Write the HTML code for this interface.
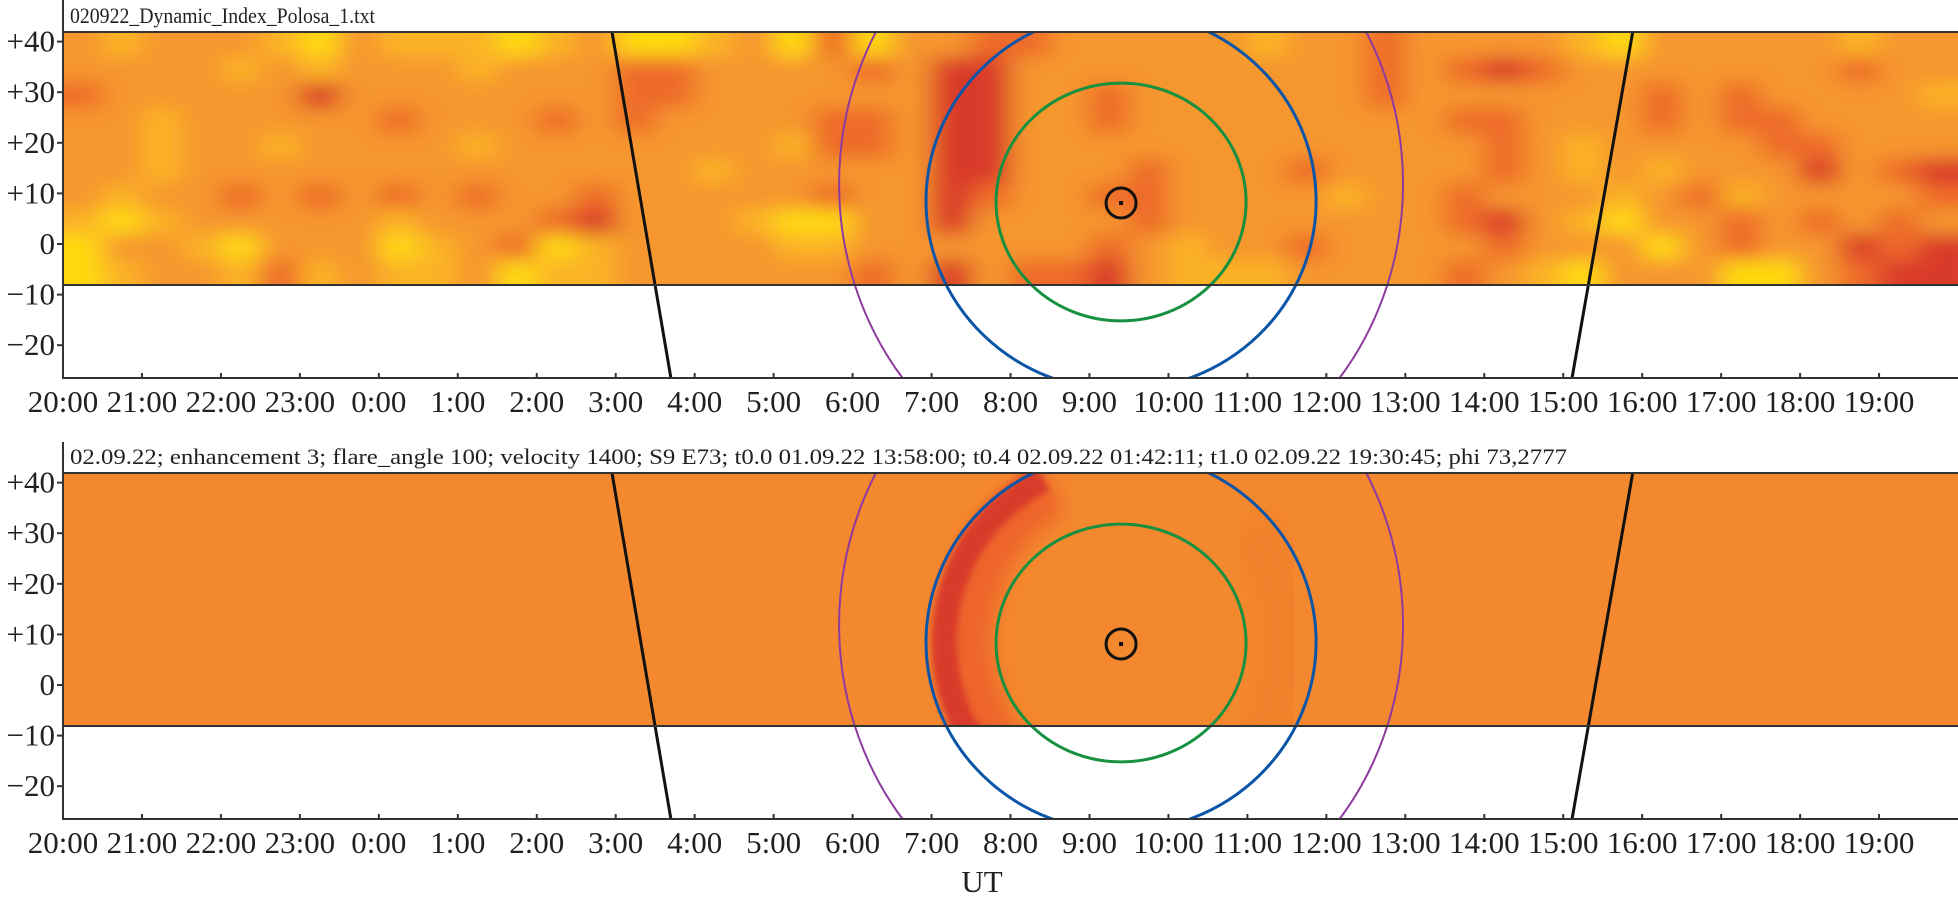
<!DOCTYPE html>
<html><head><meta charset="utf-8"><style>
html,body{margin:0;padding:0;background:#fff;}
svg{display:block;}
text{font-family:"Liberation Serif",serif;fill:#231f20;}
</style></head><body>
<svg id="chart" width="1958" height="904" viewBox="0 0 1958 904" xmlns="http://www.w3.org/2000/svg">
<defs>
  <filter id="blurHeat" x="-5%" y="-5%" width="110%" height="110%"><feGaussianBlur stdDeviation="13 9"/></filter>
  <filter id="blurRed" x="-20%" y="-20%" width="140%" height="140%"><feGaussianBlur stdDeviation="3.5"/></filter>
  <filter id="blurSoft" x="-20%" y="-20%" width="140%" height="140%"><feGaussianBlur stdDeviation="10"/></filter>
  <clipPath id="heat1"><rect x="63" y="32" width="1895" height="253"/></clipPath>
  <clipPath id="heat2"><rect x="63" y="473" width="1895" height="253"/></clipPath>
  <clipPath id="area1"><rect x="63" y="32" width="1895" height="346"/></clipPath>
  <clipPath id="area2"><rect x="63" y="473" width="1895" height="346"/></clipPath>
</defs>
</svg>
<script>
// ---- data ----
const hourLabels = ["20:00","21:00","22:00","23:00","0:00","1:00","2:00","3:00","4:00","5:00","6:00","7:00","8:00","9:00","10:00","11:00","12:00","13:00","14:00","15:00","16:00","17:00","18:00","19:00"];
const yTicks = [40,30,20,10,0,-10,-20];
const yTickLabels = ["+40","+30","+20","+10","0","\u221210","\u221220"];
const heatTop = 41.9, heatBottom = -8.1;
const heatRows = [
 "212221021110120012030223"+"322222122322221022222122",
 "222212122212223322223244"+"222222222323432222222322",
 "322222422222223322222244"+"223222222322222232322221",
 "221222223222323222233244"+"223222222223322232332222",
 "221221222212222222133244"+"222222222222321222233222",
 "221222222222222212222244"+"222322232222321212224234",
 "212232323232232222232243"+"223322221223222123122223",
 "101222221222342221002242"+"222322222223421022323232",
 "022102220123012222112222"+"223212232222322202322434",
 "012213121120112222223242"+"334211122223210222002344"
];
const heatColors = ["#ffd90f","#fbb326","#f6962d","#ee6a2a","#d93a2a"];
const sunCenter = {h:13.40, v:8.1};
const greenEllipse = {h:13.40, v:8.3, rh:1.583, rv:23.5};
const blueEllipse = {h:13.40, v:8.5, rh:2.47, rv:37.4};
const purpleEllipse = {h:13.40, v:11.9, rh:3.571, rv:60.7};
const blackLeft = [{h:6.953, v:41.9},{h:7.70, v:-26.6}];
const blackRight = [{h:19.88, v:41.9},{h:19.11, v:-26.6}];
const panelTitles = ["020922_Dynamic_Index_Polosa_1.txt","02.09.22; enhancement 3; flare_angle 100; velocity 1400; S9 E73; t0.0 01.09.22 13:58:00; t0.4 02.09.22 01:42:11; t1.0 02.09.22 19:30:45; phi 73,2777"];

// ---- scales ----
const X0 = 63, XW = 78.96;
const xOf = h => X0 + h*XW;
const yOf = (v, off) => off + 244 - 5.06*v;
const svg = document.getElementById('chart');
const NS = "http://www.w3.org/2000/svg";
function mk(tag, attrs, parent){
  const e = document.createElementNS(NS, tag);
  for (const k in attrs) e.setAttribute(k, attrs[k]);
  (parent||svg).appendChild(e);
  return e;
}

function drawPanel(p){
  const off = p*441;
  const g = mk('g', {});
  
  
  const hg = mk('g', {'clip-path': 'url(#heat'+(p+1)+')'}, g);
  
  
  const yT = yOf(heatTop, off), yB = yOf(heatBottom, off);
  if (p===0){
    mk('rect', {x:X0, y:yT, width:1895, height:yB-yT, fill:"#f6962d"}, hg);
    const bg = mk('g', {filter:'url(#blurHeat)'}, hg);
    const nr = heatRows.length, ncol = heatRows[0].length;
    const dv = (heatTop-heatBottom)/nr, dh = 24/ncol;
    for (let r=0;r<nr;r++){
      for (let c=0;c<ncol;c++){
        const val = +heatRows[r][c];
        const v1 = heatTop - r*dv, v2 = v1 - dv;
        let x1 = xOf(c*dh), x2 = xOf((c+1)*dh), y1 = yOf(v1,off), y2 = yOf(v2,off);
        if (c===0) x1 -= 25; if (c===ncol-1) x2 += 25;
        if (r===0) y1 -= 25; if (r===nr-1) y2 += 25;
        const cell = mk('rect', {x:x1, y:y1, width:x2-x1+0.5, height:y2-y1+0.5, fill:heatColors[val]}, bg);
        
        
      }
    }
  } else {
    mk('rect', {x:X0, y:yT, width:1895, height:yB-yT, fill:"#f4882e"}, hg);
    const cx = xOf(blueEllipse.h), cy = yOf(blueEllipse.v, off);
    const rx = blueEllipse.rh*XW, ry = blueEllipse.rv*5.06;
    const arc = (rxa, rya, dx, a0, a1) => {
      let d = "";
      for (let a=a0; a<=a1; a+=2){
        const t = a*Math.PI/180;
        d += (d?"L":"M") + (cx+dx+rxa*Math.cos(t)).toFixed(1) + "," + (cy+rya*Math.sin(t)).toFixed(1);
      }
      return d;
    };
    const shade = mk('path', {d:arc(rx-30, ry-10, 0, -40, 40), fill:"none", stroke:"#f07e2c", "stroke-width":50, filter:'url(#blurSoft)', opacity:0.7}, hg);
    
    
    const halo = mk('path', {d:arc(rx-42, ry-22, 0, 118, 245), fill:"none", stroke:"#ec5e2a", "stroke-width":48, filter:'url(#blurSoft)', opacity:0.85}, hg);
    
    
    const cres = mk('path', {d:arc(rx-18, ry-8, 0, 116, 244), fill:"none", stroke:"#d93a2a", "stroke-width":26, filter:'url(#blurRed)'}, hg);
    
    
  }
  const cg = mk('g', {'clip-path': 'url(#area'+(p+1)+')', fill:'none'}, g);
  const ell = (e, color, w, name) => {
    const el = mk('ellipse', {cx:xOf(e.h), cy:yOf(e.v,off), rx:e.rh*XW, ry:e.rv*5.06, stroke:color, 'stroke-width':w}, cg);
    
    
  };
  ell(purpleEllipse, "#8e3a9e", 2, 'purple-contour');
  ell(blueEllipse, "#0b55a8", 3, 'blue-contour');
  ell(greenEllipse, "#17903f", 3, 'green-contour');
  const line = (pts, name) => {
    const l = mk('line', {x1:xOf(pts[0].h), y1:yOf(pts[0].v,off), x2:xOf(pts[1].h), y2:yOf(pts[1].v,off), stroke:"#111", 'stroke-width':3}, cg);
    
    
  };
  line(blackLeft, 'terminator-left');
  line(blackRight, 'terminator-right');
  const sun = mk('circle', {cx:xOf(sunCenter.h), cy:yOf(sunCenter.v,off), r:15, stroke:"#111", 'stroke-width':3}, cg);
  
  
  mk('rect', {x:xOf(sunCenter.h)-2, y:yOf(sunCenter.v,off)-2, width:4, height:4, fill:"#111"}, cg);
  mk('line', {x1:X0, y1:yT, x2:1958, y2:yT, stroke:"#333", 'stroke-width':2}, g);
  mk('line', {x1:X0, y1:yB, x2:1958, y2:yB, stroke:"#333", 'stroke-width':2}, g);
  const axB = off + 378;
  const xAxis = mk('line', {x1:X0, y1:axB, x2:1958, y2:axB, stroke:"#333", 'stroke-width':2}, g);
  
  
  const yAxis = mk('line', {x1:X0, y1:off+(p===0?0:1), x2:X0, y2:axB+1, stroke:"#333", 'stroke-width':2}, g);
  
  
  yTicks.forEach((v,i) => {
    const y = yOf(v, off);
    mk('line', {x1:X0-6, y1:y, x2:X0, y2:y, stroke:"#333", 'stroke-width':2}, g);
    const t = mk('text', {x:55, y:y+10, 'text-anchor':'end', 'font-size':31}, g);
    t.textContent = yTickLabels[i];
    
    
  });
  hourLabels.forEach((lab,i) => {
    const x = xOf(i);
    mk('line', {x1:x, y1:axB-5, x2:x, y2:axB, stroke:"#333", 'stroke-width':2}, g);
    const t = mk('text', {x:x, y:axB+34, 'text-anchor':'middle', 'font-size':31}, g);
    t.textContent = lab;
    
    
  });
  const tt = mk('text', {x:70, y:off+23, 'font-size':22, textLength:(p===0?305:1497), lengthAdjust:'spacingAndGlyphs'}, g);
  tt.textContent = panelTitles[p];
  
  
}
drawPanel(0);
drawPanel(1);
const ut = mk('text', {x:982, y:892, 'text-anchor':'middle', 'font-size':31});
ut.textContent = "UT";


</script>
</body></html>
